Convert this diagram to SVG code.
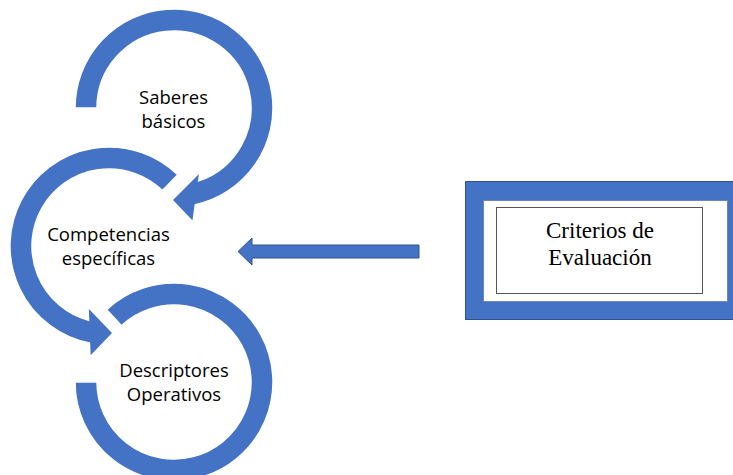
<svg xmlns="http://www.w3.org/2000/svg" width="733" height="475" viewBox="0 0 733 475">
<style>
.ring{fill:#4472C4;stroke:#FFFFFF;stroke-width:1.5;stroke-linejoin:miter}
.lbl{font-family:"Open Sans","Noto Sans","Liberation Sans",sans-serif;font-size:18.5px;fill:#000000;text-anchor:middle}
.serif{font-family:"Liberation Serif","Times New Roman",serif;font-size:23px;fill:#000000;text-anchor:middle}
</style>
<rect x="0" y="0" width="733" height="475" fill="#FFFFFF"/>
<g id="node-descriptores">
<path class="ring" d="M106.5,309.6 A99,99 0 1 1 75,382 L97,382 A77,77 0 1 0 121.5,325.7 Z"/>
<text class="lbl" x="174" y="377">Descriptores</text>
<text class="lbl" x="174" y="401">Operativos</text>
</g>
<g id="node-competencias">
<path class="ring" d="M177.8,174.8 A99,99 0 1 0 89.4,343 L90,357 L113,333 L88,307 L88.5,320.2 A77,77 0 1 1 162.5,190.6 Z"/>
<text class="lbl" x="108.5" y="241">Competencias</text>
<text class="lbl" x="108.5" y="265">específicas</text>
</g>
<g id="node-saberes">
<path class="ring" d="M75,108 A99,99 0 1 1 195.4,204.7 L193,222 L172,200 L200,172 L198.7,180.9 A77,77 0 1 0 97,108 Z"/>
<text class="lbl" x="173.5" y="104">Saberes</text>
<text class="lbl" x="173.5" y="128">básicos</text>
</g>
<g id="node-criterios">
<rect x="465.5" y="181.5" width="280" height="138" fill="#4472C4" stroke="#2F528F" stroke-width="1"/>
<rect x="483.5" y="200.5" width="244" height="101" fill="#FFFFFF" stroke="#6E86B8" stroke-width="1"/>
<rect x="496.5" y="207.5" width="206" height="86" fill="#FFFFFF" stroke="#555555" stroke-width="1"/>
<text class="serif" x="600" y="238">Criterios de</text>
<text class="serif" x="600" y="265">Evaluación</text>
</g>
<g id="connectors">
<path d="M238,251.5 L252,238 L252,245 L419,245 L419,258 L252,258 L252,265 Z" fill="#4472C4" stroke="#2F528F" stroke-width="1"/>
</g>
</svg>
